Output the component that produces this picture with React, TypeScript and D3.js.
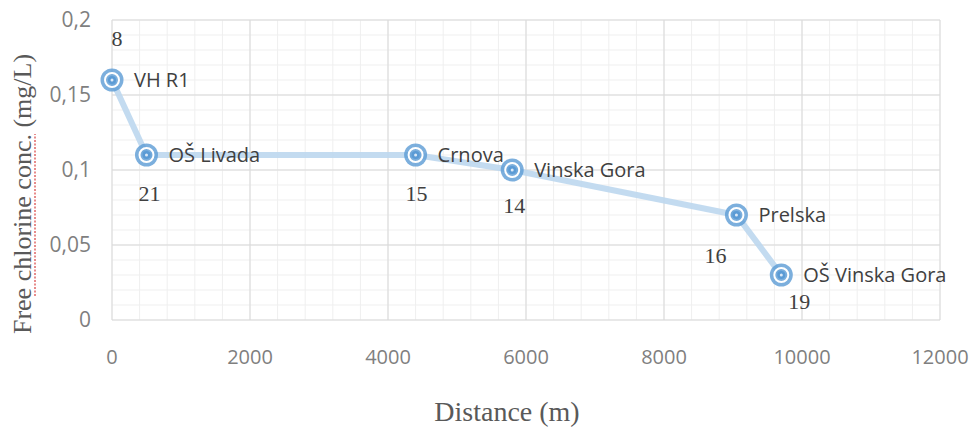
import React from "react";
import * as d3 from "d3";

const sites = ["VH R1", "OŠ Livada", "Crnova", "Vinska Gora", "Prelska", "OŠ Vinska Gora"];
const distance = [0, 500, 4400, 5800, 9050, 9700];
const chlorine = [0.16, 0.11, 0.11, 0.1, 0.07, 0.03];
const sampleNo = ["8", "21", "15", "14", "16", "19"];
const xTicks = [0, 2000, 4000, 6000, 8000, 10000, 12000];
const yTicks = [0, 0.05, 0.1, 0.15, 0.2];
// label offsets (layout only)
const numOffset: [number, number][] = [[5, -41], [3, 39], [1, 39], [2, 36], [-21, 41], [18, 27]];

const W = 973, H = 431;
const m = { left: 112, right: 940, top: 20, bottom: 320 };

export default function App() {
  const x = d3.scaleLinear().domain([0, 12000]).range([m.left, m.right]);
  const y = d3.scaleLinear().domain([0, 0.2]).range([m.bottom, m.top]);
  const minorX = d3.range(0, 12001, 400);
  const minorY = d3.range(0, 0.2001, 0.01);
  const pts = distance.map((d, i) => [x(d), y(chlorine[i])] as [number, number]);
  const line = d3.line()(pts) || "";
  const fmt = (v: number) => String(+v.toFixed(2)).replace(".", ",");
  const sans = "'Open Sans', sans-serif";
  const serif = "'Liberation Serif', 'DejaVu Serif', serif";
  return (
    <svg width={W} height={H} style={{ position: "absolute", left: 0, top: 0, background: "#fff" }}>
      <g>
        {minorX.map((v) => (
          <line key={"mx" + v} x1={x(v)} x2={x(v)} y1={m.top} y2={m.bottom} stroke="#efefef" strokeWidth={1} />
        ))}
        {minorY.map((v) => (
          <line key={"my" + v} x1={m.left} x2={m.right} y1={y(v)} y2={y(v)} stroke="#efefef" strokeWidth={1} />
        ))}
        {xTicks.map((v) => (
          <line key={"Mx" + v} x1={x(v)} x2={x(v)} y1={m.top} y2={m.bottom} stroke="#d9d9d9" strokeWidth={1} />
        ))}
        {yTicks.map((v) => (
          <line key={"My" + v} x1={m.left} x2={m.right} y1={y(v)} y2={y(v)} stroke="#d9d9d9" strokeWidth={1} />
        ))}
      </g>
      {xTicks.map((v) => (
        <text key={"tx" + v} x={x(v)} y={364} textAnchor="middle" fontFamily={sans} fontSize={20} fill="#7f7f7f">
          {v}
        </text>
      ))}
      {yTicks.map((v) => (
        <text key={"ty" + v} x={91} y={y(v) + 7} textAnchor="end" fontFamily={sans} fontSize={21} fill="#7f7f7f">
          {fmt(v)}
        </text>
      ))}
      <path d={line} fill="none" stroke="#bdd7ee" strokeWidth={6} strokeLinejoin="round" opacity={0.9} />
      {pts.map(([px, py], i) => (
        <g key={"p" + i}>
          <circle cx={px} cy={py} r={11.5} fill="#5b9bd5" opacity={0.8} />
          <circle cx={px} cy={py} r={7} fill="none" stroke="#ffffff" strokeWidth={2} />
          <circle cx={px} cy={py} r={4} fill="#5b9bd5" />
          <circle cx={px} cy={py} r={1.5} fill="#dbe8f6" />
          <text x={px + 22} y={py + 7} fontFamily={sans} fontSize={20} fill="#404040">
            {sites[i]}
          </text>
          <text
            x={px + numOffset[i][0]}
            y={py + numOffset[i][1] + 7}
            textAnchor="middle"
            fontFamily={serif}
            fontSize={22}
            fill="#404040"
          >
            {sampleNo[i]}
          </text>
        </g>
      ))}
      <text x={507} y={421} textAnchor="middle" fontFamily={serif} fontSize={28} fill="#595959">
        Distance (m)
      </text>
      <text
        transform="translate(31,194) rotate(-90)"
        textAnchor="middle"
        fontFamily={serif}
        fontSize={26}
        fill="#595959"
      >
        Free chlorine conc. (mg/L)
      </text>
      <line x1={35} x2={35} y1={296} y2={134} stroke="#e06666" strokeWidth={1.5} strokeDasharray="2,1.5" />
    </svg>
  );
}
